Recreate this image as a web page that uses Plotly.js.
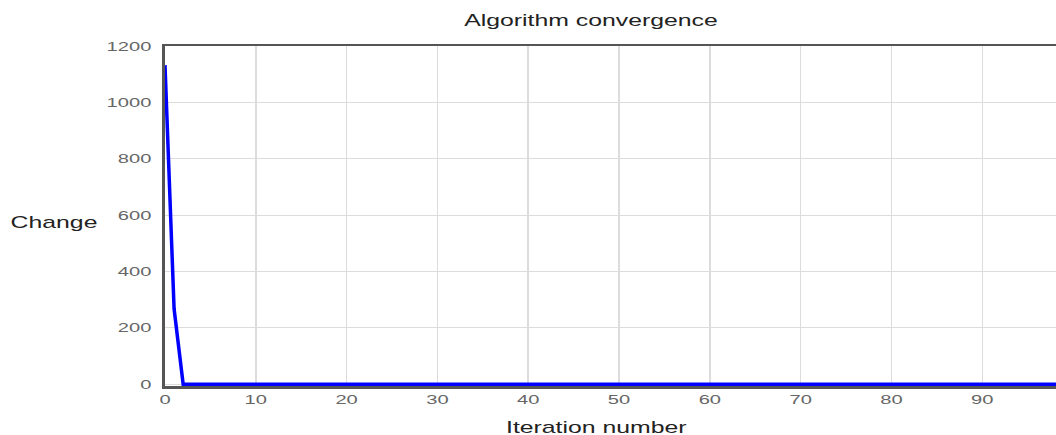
<!DOCTYPE html>
<html>
<head>
<meta charset="utf-8">
<script src="https://cdn.plot.ly/plotly-3.0.1.min.js"></script>
<style>
html,body{margin:0;padding:0;overflow:hidden;background:#fff;}
#chart{width:1070px;height:435px;}
</style>
</head>
<body>
<div id="chart"></div>
<script>
var iterations = [0,1,2,3,4,5,6,7,8,9,10,11,12,13,14,15,16,17,18,19,20,21,22,23,24,25,26,27,28,29,30,31,32,33,34,35,36,37,38,39,40,41,42,43,44,45,46,47,48,49,50,51,52,53,54,55,56,57,58,59,60,61,62,63,64,65,66,67,68,69,70,71,72,73,74,75,76,77,78,79,80,81,82,83,84,85,86,87,88,89,90,91,92,93,94,95,96,97,98,99];
var changes = [1132,268,0,0,0,0,0,0,0,0,0,0,0,0,0,0,0,0,0,0,0,0,0,0,0,0,0,0,0,0,0,0,0,0,0,0,0,0,0,0,0,0,0,0,0,0,0,0,0,0,0,0,0,0,0,0,0,0,0,0,0,0,0,0,0,0,0,0,0,0,0,0,0,0,0,0,0,0,0,0,0,0,0,0,0,0,0,0,0,0,0,0,0,0,0,0,0,0,0,0];
var xTicks = [0,10,20,30,40,50,60,70,80,90];
var yTicks = [0,200,400,600,800,1000,1200];
var chartTitle = "Algorithm convergence";
var xTitle = "Iteration number";
var yTitle = "Change";

var W = 1070, H = 435;
var FONT = 'Liberation Sans, Arial, sans-serif';
var STRETCH = 1.55;
var trace = {
  x: iterations, y: changes, type: 'scatter', mode: 'lines',
  line: {color: '#0000ff', width: 3.5}, hoverinfo: 'skip'
};
var layout = {
  width: W, height: H,
  margin: {l: 165, r: 6, t: 46, b: 49, pad: 0},
  paper_bgcolor: '#ffffff', plot_bgcolor: '#ffffff',
  font: {family: FONT, color: '#333'},
  title: {text: chartTitle, font: {family: FONT, size: 16, color: '#222'}, xref: 'container', x: 591/W, xanchor: 'center', yref: 'container', y: 1 - 20/H, yanchor: 'middle'},
  showlegend: false,
  xaxis: {
    range: [0, 99], tickvals: xTicks, ticktext: xTicks.map(String),
    showgrid: true, gridcolor: '#dcdcdc', gridwidth: 1.5,
    showline: true, linecolor: '#555', linewidth: 2.5, mirror: true,
    zeroline: false, ticks: '', ticklen: 0, layer: 'below traces',
    tickfont: {family: FONT, size: 13, color: '#666'}, fixedrange: true
  },
  yaxis: {
    range: [-6, 1200], tickvals: yTicks, ticktext: yTicks.map(String),
    showgrid: true, gridcolor: '#dcdcdc', gridwidth: 1,
    showline: true, linecolor: '#555', linewidth: 3,
    zeroline: false, ticks: '', ticklen: 0, ticklabelstandoff: 8,
    tickfont: {family: FONT, size: 13, color: '#666'}, fixedrange: true
  },
  annotations: [
    {text: yTitle, xref: 'paper', yref: 'paper', x: (54 - 165) / (W - 171), y: (386 - 223) / 340, xanchor: 'center', yanchor: 'middle', showarrow: false, font: {family: FONT, size: 16, color: '#222'}},
    {text: xTitle, xref: 'paper', yref: 'paper', x: (596 - 165) / (W - 171), y: -(427 - 386) / 340, xanchor: 'center', yanchor: 'middle', showarrow: false, font: {family: FONT, size: 16, color: '#222'}}
  ]
};
Plotly.newPlot('chart', [trace], layout, {displayModeBar: false, staticPlot: true}).then(function (gd) {
  // the reference text is horizontally stretched; scale each text about its anchor point
  gd.querySelectorAll('svg text').forEach(function (t) {
    var x = parseFloat(t.getAttribute('x')) || 0;
    var tr = t.getAttribute('transform') || '';
    t.setAttribute('transform', tr + ' translate(' + x + ',0) scale(' + STRETCH + ',1) translate(' + (-x) + ',0)');
  });
});
</script>
</body>
</html>
